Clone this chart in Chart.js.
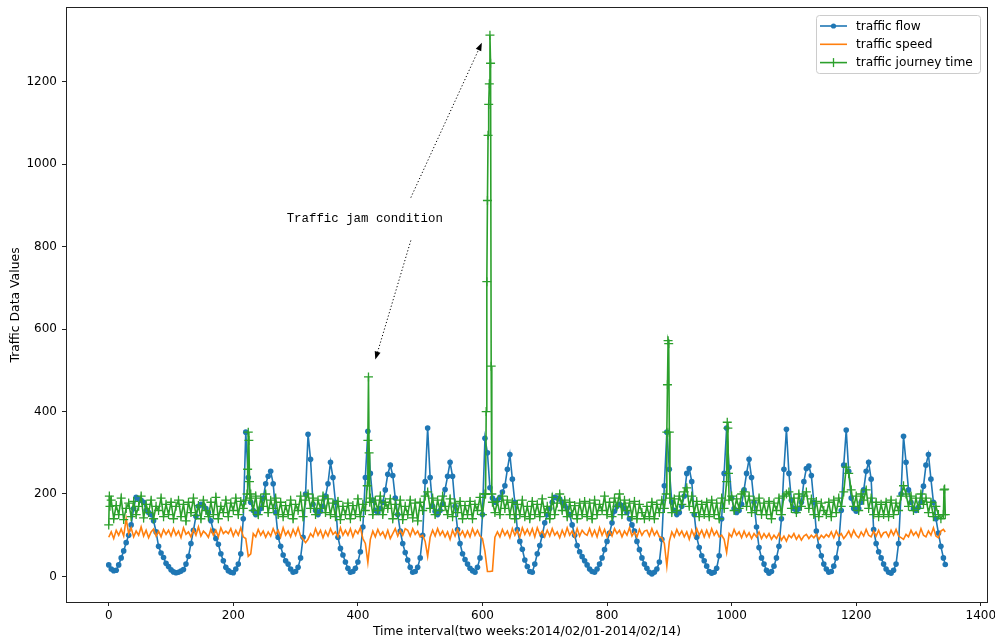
<!DOCTYPE html>
<html>
<head>
<meta charset="utf-8">
<script src="https://cdn.jsdelivr.net/npm/chart.js@4.4.1/dist/chart.umd.min.js"></script>
<style>
html,body{margin:0;padding:0;background:#fff;}
#wrap{width:995px;height:639px;position:relative;}
</style>
</head>
<body>
<div id="wrap"><canvas id="c" width="995" height="639"></canvas></div>
<script>
// ---- data (15-minute intervals, read every 4th interval from the figure) ----
const intervalStep = 4;

const trafficFlow = [
  28,18,14,15,28,45,62,82,100,125,165,192,188,185,180,160,155,150,135,108,73,57,46,32,
  24,16,11,9,10,13,17,30,49,80,112,146,170,175,172,165,155,135,110,92,78,55,38,22,
  14,10,9,18,30,55,140,350,240,180,160,150,155,165,190,225,243,255,225,155,95,73,52,38,
  30,18,10,12,22,45,95,200,345,284,175,160,150,158,170,195,225,277,240,180,95,68,52,35,
  20,10,12,20,35,60,120,240,352,250,185,160,155,165,180,210,248,270,245,190,150,110,80,58,
  40,22,10,12,22,45,100,230,360,240,170,158,150,160,175,211,243,277,243,170,114,80,55,41,
  30,20,14,10,22,45,150,335,300,215,190,180,185,192,205,220,260,296,236,180,114,85,66,40,
  24,12,10,30,55,75,100,130,150,165,180,192,190,188,180,172,165,150,125,100,75,60,48,38,
  28,18,12,10,18,30,45,65,85,105,130,158,170,175,172,165,155,140,125,110,85,65,45,30,
  20,10,6,10,18,35,90,220,350,260,180,160,150,155,170,195,250,262,230,150,95,70,50,38,
  25,12,8,10,20,50,140,250,360,265,190,165,155,160,175,210,250,284,240,180,120,70,45,30,
  15,8,12,25,45,73,140,260,357,250,185,165,158,165,180,230,262,268,245,180,110,73,50,30,
  18,10,12,25,45,80,160,270,355,255,190,165,158,165,180,210,255,277,236,114,80,60,45,30,
  18,10,8,15,30,80,200,340,277,210,180,165,160,168,180,219,270,296,236,180,140,105,73,45
];

const trafficSpeed = [
  95,108,92,112,100,115,98,140,104,118,96,110,100,120,98,112,94,108,115,98,110,96,114,102,
  112,98,116,100,110,94,118,102,108,96,114,100,120,98,110,104,95,115,100,112,96,118,104,110,
  104,116,98,112,100,118,96,92,49,55,104,96,114,100,110,95,108,98,116,102,112,96,118,100,
  110,96,114,100,118,98,90,82,90,104,96,116,100,112,94,110,98,116,102,108,96,118,100,112,
  100,116,96,112,104,118,92,80,34,90,110,96,114,100,108,94,112,92,104,116,98,112,100,116,
  112,98,116,102,110,96,100,85,49,95,112,98,116,100,110,96,108,90,112,98,114,100,110,96,
  110,96,116,100,112,98,92,60,12,12,13,95,108,96,114,100,110,94,116,100,112,96,118,102,
  114,100,116,96,118,102,110,96,112,98,116,100,108,94,112,98,118,100,110,96,116,98,112,104,
  100,116,98,112,96,118,100,114,96,110,98,116,104,112,96,110,100,118,98,108,96,114,100,110,
  112,98,116,100,110,96,94,80,25,85,108,96,114,100,110,96,108,90,112,98,116,100,112,96,
  112,96,116,100,110,96,100,90,58,104,96,114,100,108,94,110,96,106,92,104,96,108,92,104,
  94,104,90,100,92,104,88,98,86,100,94,104,90,100,88,98,102,92,100,94,102,90,100,94,
  102,96,108,94,110,98,104,92,100,110,96,112,100,94,108,98,114,100,96,110,98,112,96,106,
  108,96,112,100,114,98,94,90,102,96,112,100,108,96,116,100,96,110,100,118,98,94,110,114
];

const journeyTime = [
  125,185,140,172,150,190,138,165,178,145,182,150,170,195,142,175,155,185,140,170,160,190,145,175,
  150,180,140,170,185,145,175,135,180,155,190,148,172,140,185,160,145,180,150,192,140,170,155,185,
  145,178,160,190,150,182,165,185,350,200,160,195,150,190,170,200,155,185,165,190,150,180,145,172,
  150,185,140,175,160,195,145,185,200,165,190,150,185,165,195,155,188,150,178,145,182,138,170,150,
  178,140,172,150,188,145,175,160,200,190,150,185,160,195,150,180,165,188,140,175,150,185,138,170,
  150,185,142,178,135,180,160,195,205,165,190,150,185,160,195,170,150,188,145,178,155,182,140,172,
  150,182,140,175,160,192,150,200,190,160,188,155,182,150,195,165,185,150,180,140,175,150,185,145,
  170,140,182,150,175,145,188,155,170,140,192,150,178,200,160,185,145,180,150,172,140,178,150,182,
  145,178,140,185,150,175,160,195,150,180,145,190,170,200,150,185,160,178,145,182,140,175,155,140,
  170,145,180,140,175,155,185,165,200,190,155,188,160,195,175,205,215,170,195,155,182,145,175,150,
  180,145,185,150,178,140,190,165,200,170,195,160,188,165,200,205,170,195,155,185,160,190,150,178,
  150,182,140,178,160,190,150,195,200,205,165,190,155,200,170,195,205,165,188,150,182,145,178,160,
  150,180,145,185,155,190,170,205,265,250,210,170,195,160,200,185,210,165,190,150,180,145,175,150,
  180,145,185,150,178,160,195,220,200,170,195,160,190,165,200,175,190,155,180,145,170,150,140,150
];

// every interval read around the jam peaks and at the ends
const detailIntervals   = [1,2,222,223,224,225,226,227,415,416,417,418,419,605,606,607,608,609,610,611,612,613,614,615,616,895,896,897,898,899,900,901,992,993,994,995,996,1341,1342,1343];
const detailJourneyTime = [195,170,200,260,350,330,230,190,220,330,484,300,180,200,400,715,912,1070,1145,1195,1313,1245,510,200,180,200,350,465,572,565,350,190,230,374,360,250,185,210,212,150];
const tailIntervals = [1343];
const tailFlow = [29];
const tailSpeed = [108];

const seriesNames = ['traffic flow', 'traffic speed', 'traffic journey time'];
const xTickValues = [0, 200, 400, 600, 800, 1000, 1200, 1400];
const yTickValues = [0, 200, 400, 600, 800, 1000, 1200];
const xAxisTitle = 'Time interval(two weeks:2014/02/01-2014/02/14)';
const yAxisTitle = 'Traffic Data Values';
const annotationText = 'Traffic jam condition';
const annotationTextAt = [411, 868];
const annotationArrows = [
  { from: [485, 919], to: [599, 1295] },
  { from: [485, 815], to: [428, 526] }
];

// ---- build series ----
function buildSeries(base, extraX, extraY) {
  const m = new Map();
  base.forEach((v, i) => m.set(i * intervalStep, v));
  extraX.forEach((x, i) => { if (extraY[i] != null) m.set(x, extraY[i]); });
  return [...m.entries()].sort((a, b) => a[0] - b[0]).map(([x, y]) => ({ x, y }));
}

const COLORS = ['#1f77b4', '#ff7f0e', '#2ca02c'];
const FONT = 'DejaVu Sans';

const overlayPlugin = {
  id: 'overlay',
  afterDraw(chart) {
    const { ctx, chartArea: ca, scales } = chart;
    const xs = scales.x, ys = scales.y;
    ctx.save();
    // frame
    ctx.strokeStyle = '#222';
    ctx.lineWidth = 1;
    ctx.strokeRect(Math.round(ca.left) - 0.5, Math.round(ca.top) - 0.5,
                   Math.round(ca.right - ca.left) + 1, Math.round(ca.bottom - ca.top) + 1);

    // annotation
    ctx.fillStyle = '#000';
    ctx.font = '12.4px "Liberation Mono", "DejaVu Sans Mono", monospace';
    ctx.textAlign = 'center';
    ctx.textBaseline = 'middle';
    ctx.fillText(annotationText, xs.getPixelForValue(annotationTextAt[0]), ys.getPixelForValue(annotationTextAt[1]));
    annotationArrows.forEach(a => {
      const x0 = xs.getPixelForValue(a.from[0]), y0 = ys.getPixelForValue(a.from[1]);
      const x1 = xs.getPixelForValue(a.to[0]), y1 = ys.getPixelForValue(a.to[1]);
      const ang = Math.atan2(y1 - y0, x1 - x0);
      const hl = 8, hw = 3;
      const bx = x1 - hl * Math.cos(ang), by = y1 - hl * Math.sin(ang);
      ctx.strokeStyle = '#000';
      ctx.lineWidth = 1;
      ctx.setLineDash([1.2, 2.2]);
      ctx.beginPath(); ctx.moveTo(x0, y0); ctx.lineTo(bx, by); ctx.stroke();
      ctx.setLineDash([]);
      ctx.beginPath();
      ctx.moveTo(x1, y1);
      ctx.lineTo(bx + hw * Math.sin(ang), by - hw * Math.cos(ang));
      ctx.lineTo(bx - hw * Math.sin(ang), by + hw * Math.cos(ang));
      ctx.closePath();
      ctx.fillStyle = '#000';
      ctx.fill();
    });

    // legend
    const bw = 164, bh = 58;
    const bx = ca.right - 7 - bw, by = ca.top + 7;
    ctx.beginPath();
    if (ctx.roundRect) ctx.roundRect(bx + 0.5, by + 0.5, bw, bh, 3); else ctx.rect(bx + 0.5, by + 0.5, bw, bh);
    ctx.fillStyle = 'rgba(255,255,255,0.85)';
    ctx.fill();
    ctx.strokeStyle = '#cccccc';
    ctx.lineWidth = 1;
    ctx.stroke();
    ctx.font = '12.2px "' + FONT + '"';
    ctx.textAlign = 'left';
    ctx.textBaseline = 'middle';
    seriesNames.forEach((name, i) => {
      const ry = by + 11 + i * 18.3;
      const lx0 = bx + 4, lx1 = bx + 31, cx = (lx0 + lx1) / 2;
      ctx.strokeStyle = COLORS[i];
      ctx.lineWidth = 1.6;
      ctx.beginPath(); ctx.moveTo(lx0, ry); ctx.lineTo(lx1, ry); ctx.stroke();
      if (i === 0) {
        ctx.fillStyle = COLORS[i];
        ctx.beginPath(); ctx.arc(cx, ry, 2.6, 0, Math.PI * 2); ctx.fill();
      } else if (i === 2) {
        ctx.lineWidth = 1.3;
        ctx.beginPath(); ctx.moveTo(cx, ry - 4.5); ctx.lineTo(cx, ry + 4.5); ctx.stroke();
      }
      ctx.fillStyle = '#000';
      ctx.fillText(name, bx + 40, ry + 0.5);
    });
    ctx.restore();
  }
};

const plainTick = v => String(v);

new Chart(document.getElementById('c'), {
  type: 'line',
  data: {
    datasets: [
      {
        label: seriesNames[0],
        data: buildSeries(trafficFlow, tailIntervals, tailFlow),
        borderColor: COLORS[0], backgroundColor: COLORS[0],
        borderWidth: 1.6, pointRadius: 2.8, pointStyle: 'circle',
        pointBackgroundColor: COLORS[0], pointBorderWidth: 0, order: 3
      },
      {
        label: seriesNames[1],
        data: buildSeries(trafficSpeed, tailIntervals, tailSpeed),
        borderColor: COLORS[1], backgroundColor: COLORS[1],
        borderWidth: 1.6, pointRadius: 0, order: 2
      },
      {
        label: seriesNames[2],
        data: buildSeries(journeyTime, detailIntervals, detailJourneyTime),
        borderColor: COLORS[2], backgroundColor: COLORS[2],
        borderWidth: 1.6, pointRadius: 4.5, pointStyle: 'cross',
        pointBorderColor: COLORS[2], pointBorderWidth: 1.3, order: 1
      }
    ]
  },
  options: {
    responsive: false,
    animation: false,
    devicePixelRatio: 1,
    layout: { padding: { top: 8, right: 8, left: 0, bottom: 0 } },
    plugins: { legend: { display: false }, tooltip: { enabled: false } },
    elements: { line: { tension: 0 } },
    scales: {
      x: {
        type: 'linear', min: -67, max: 1410,
        afterBuildTicks: s => { s.ticks = xTickValues.map(v => ({ value: v })); },
        afterFit: s => { s.height = 37; s.paddingLeft = 0; s.paddingRight = 0; },
        grid: { display: true, drawOnChartArea: false, drawTicks: true, tickLength: 4, color: '#222', lineWidth: 1 },
        border: { display: false },
        ticks: { color: '#000', font: { family: FONT, size: 12 }, padding: 3, maxRotation: 0, autoSkip: false, callback: plainTick },
        title: { display: true, text: xAxisTitle, color: '#000', font: { family: FONT, size: 12.4 }, padding: { top: 0, bottom: 0 } }
      },
      y: {
        type: 'linear', min: -62, max: 1379,
        afterBuildTicks: s => { s.ticks = yTickValues.map(v => ({ value: v })); },
        afterFit: s => { s.width = 67; s.paddingTop = 0; s.paddingBottom = 0; },
        grid: { display: true, drawOnChartArea: false, drawTicks: true, tickLength: 5, color: '#222', lineWidth: 1 },
        border: { display: false },
        ticks: { color: '#000', font: { family: FONT, size: 12 }, padding: 5, callback: plainTick },
        title: { display: true, text: yAxisTitle, color: '#000', font: { family: FONT, size: 12.4 }, padding: { top: 8, bottom: 0 } }
      }
    }
  },
  plugins: [overlayPlugin]
});
</script>
</body>
</html>
